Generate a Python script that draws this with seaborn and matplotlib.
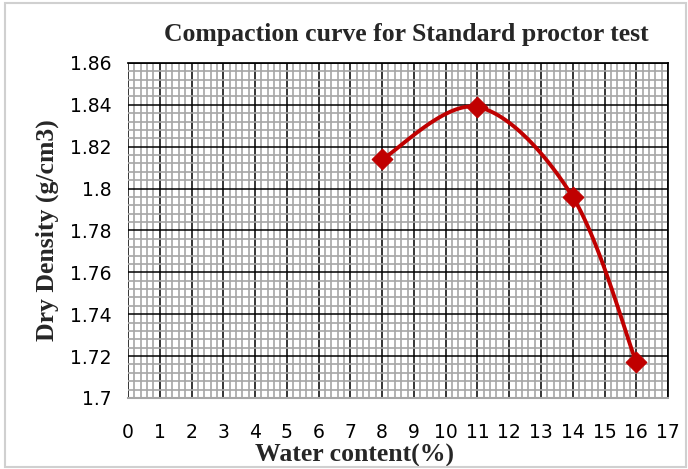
import matplotlib
matplotlib.use("Agg")
import matplotlib.pyplot as plt
import numpy as np
import pandas as pd
import seaborn as sns
from matplotlib.ticker import MultipleLocator

sns.set_theme(style="white")

# dati
water_content = [8, 11, 14, 16]
dry_density = [1.814, 1.839, 1.796, 1.717]

df = pd.DataFrame({"w": water_content, "rho": dry_density})

tick_font = ["Liberation Sans Narrow", "DejaVu Sans Condensed", "DejaVu Sans"]
serif_font = ["Liberation Serif", "DejaVu Serif"]

fig = plt.figure(figsize=(6.88, 4.69), dpi=100)
ax = fig.add_axes([0.186, 0.1514, 0.785, 0.7143])

# bordo del riquadro (stile Excel)
fig.patches.append(plt.Rectangle((0.007, 0.004), 0.99, 0.99, transform=fig.transFigure,
                                 fill=False, edgecolor="#d0d0d0", linewidth=1.5))

# curva smussata tipo Excel (Bezier tra i punti)
x = np.array(water_content, dtype=float)
y = np.array(dry_density, dtype=float)
xs, ys = [], []
t = np.linspace(0, 1, 40)
for i in range(len(x) - 1):
    p0 = np.array([x[max(i - 1, 0)], y[max(i - 1, 0)]])
    p1 = np.array([x[i], y[i]])
    p2 = np.array([x[i + 1], y[i + 1]])
    p3 = np.array([x[min(i + 2, len(x) - 1)], y[min(i + 2, len(x) - 1)]])
    c1 = p1 + (p2 - p0) / 6
    c2 = p2 - (p3 - p1) / 6
    for tt in t:
        pt = ((1 - tt) ** 3) * p1 + 3 * ((1 - tt) ** 2) * tt * c1 + 3 * (1 - tt) * tt ** 2 * c2 + tt ** 3 * p2
        xs.append(pt[0])
        ys.append(pt[1])
ax.plot(xs, ys, color="#c00000", linewidth=2.8, zorder=5)

sns.scatterplot(data=df, x="w", y="rho", ax=ax, marker="D", s=110,
                color="#c00000", edgecolor="#c00000", zorder=6)

ax.set_xlim(0, 17)
ax.set_ylim(1.7, 1.86)
ax.xaxis.set_major_locator(MultipleLocator(1))
ax.xaxis.set_minor_locator(MultipleLocator(0.2))
ax.yaxis.set_major_locator(MultipleLocator(0.02))
ax.yaxis.set_minor_locator(MultipleLocator(0.004))

ax.grid(which="minor", color="#a6a6a6", linewidth=1.2)
ax.grid(which="major", color="black", linewidth=1.1)
ax.set_axisbelow(True)

ax.set_yticks(np.arange(1.7, 1.861, 0.02))
ax.set_yticklabels(["1.7", "1.72", "1.74", "1.76", "1.78", "1.8", "1.82", "1.84", "1.86"])
ax.set_xticks(range(0, 18))
ax.set_xticklabels([str(i) for i in range(0, 18)])
ax.tick_params(axis="both", which="both", length=0, labelsize=13.5)
ax.tick_params(axis="x", pad=18)
ax.tick_params(axis="y", pad=12)
for lab in ax.get_xticklabels() + ax.get_yticklabels():
    lab.set_family(tick_font)
    lab.set_color("black")

ax.spines["left"].set_visible(False)
ax.spines["bottom"].set_color("#a6a6a6")
ax.spines["bottom"].set_linewidth(1.5)
ax.spines["right"].set_color("black")
ax.spines["top"].set_color("black")

ax.set_xlabel("Water content(%)", fontsize=18.5, fontweight="bold", family=serif_font, va="center")
ax.xaxis.set_label_coords(0.42, -0.172)
ax.set_ylabel("Dry Density (g/cm3)", fontsize=18.5, fontweight="bold", family=serif_font, labelpad=8)
ax.set_title("Compaction curve for Standard proctor test", fontsize=18.5, fontweight="bold",
             family=serif_font, pad=16, x=0.516)

fig.savefig("out.png", dpi=100)
